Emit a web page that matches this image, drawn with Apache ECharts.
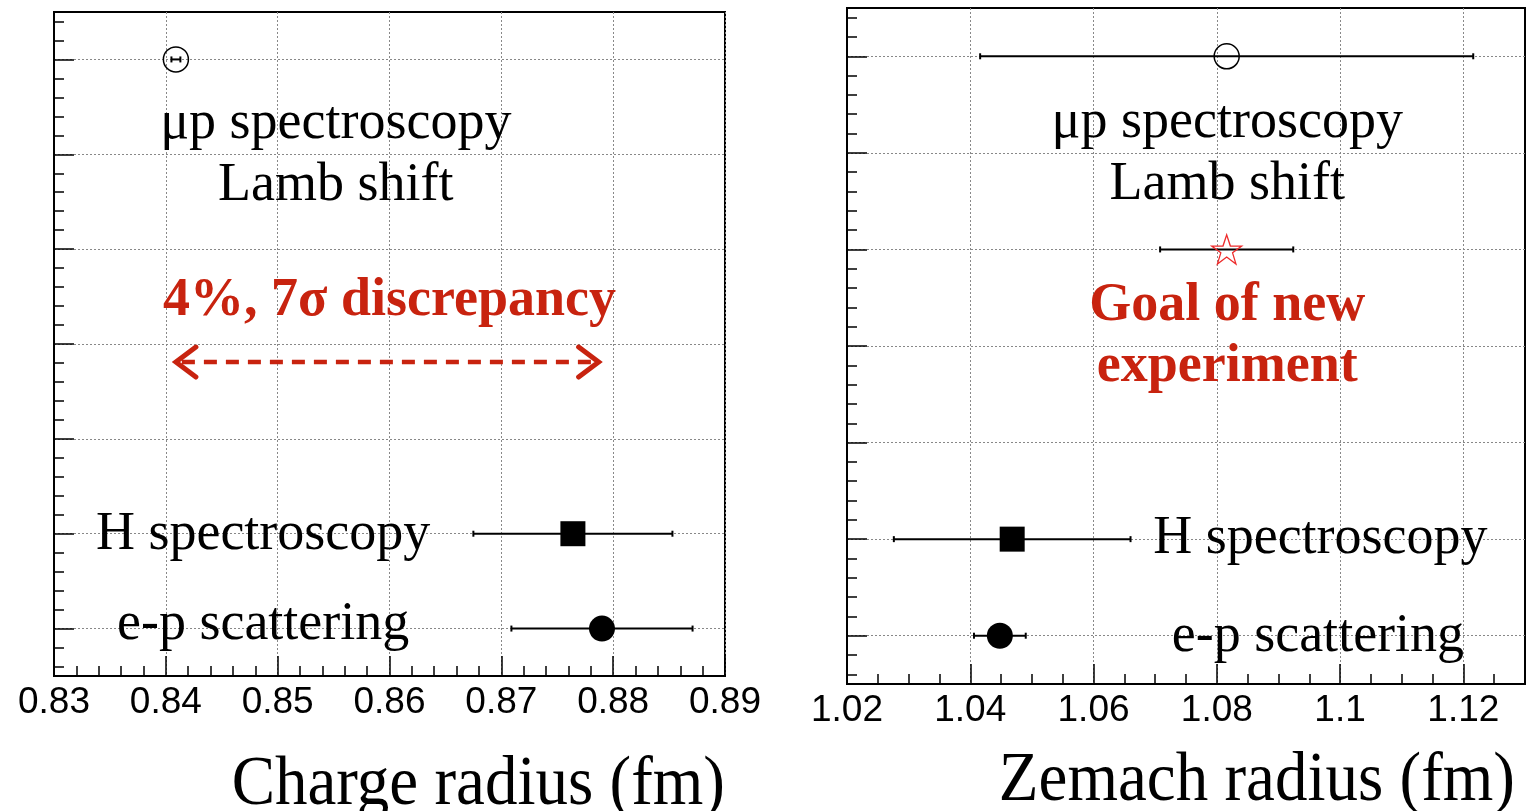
<!DOCTYPE html>
<html><head><meta charset="utf-8">
<script src="https://cdn.jsdelivr.net/npm/echarts@6/dist/echarts.min.js"></script>
<style>html,body{margin:0;padding:0;background:#fff}#c{width:1527px;height:811px}</style>
</head><body><div id="c"></div>
<script>
// ---------- data ----------
const leftNames  = ['μp Lamb shift', 'H spectroscopy', 'e-p scattering'];
const leftValue  = [0.8409, 0.8764, 0.8790];
const leftError  = [0.0004, 0.0089, 0.0081];
const leftRow    = [6.5, 1.5, 0.5];

const rightNames = ['μp Lamb shift', 'Goal of new experiment', 'H spectroscopy', 'e-p scattering'];
const rightValue = [1.0816, 1.0816, 1.0468, 1.0448];
const rightError = [0.0400, 0.0108, 0.0192, 0.0042];
const rightRow   = [6.5, 4.5, 1.5, 0.5];

const leftTickLabels  = [0.83, 0.84, 0.85, 0.86, 0.87, 0.88, 0.89];
const rightTickLabels = [1.02, 1.04, 1.06, 1.08, 1.1, 1.12];
const rowTicks      = [0.5, 1.5, 2.5, 3.5, 4.5, 5.5, 6.5];
const rowMinorTicks = [0.1,0.3,0.5,0.7,0.9,1.1,1.3,1.5,1.7,1.9,2.1,2.3,2.5,2.7,2.9,3.1,3.3,3.5,3.7,3.9,4.1,4.3,4.5,4.7,4.9,5.1,5.3,5.5,5.7,5.9,6.1,6.3,6.5,6.7,6.9];

// ---------- styling ----------
const RED = '#c8230f';
const SERIF = '"Liberation Serif", "DejaVu Serif", serif';
const SANS = '"Liberation Sans", Arial, sans-serif';
const grids = [
  {left: 54, top: 12, width: 671, height: 664},
  {left: 847, top: 8, width: 678, height: 676}
];
const gridLine = {show: true, lineStyle: {color: '#888', width: 1, type: [2, 2]}};

function xAxes(gi, min, max, labels, minorInterval, labelSize, margin) {
  return [
    {type: 'value', gridIndex: gi, min, max, position: 'bottom',
     axisLine: {show: true, onZero: false, lineStyle: {color: '#000', width: 2}},
     axisTick: {show: true, inside: true, length: 20, customValues: labels, lineStyle: {color: '#000', width: 1.5}},
     axisLabel: {show: true, customValues: labels, color: '#000', fontFamily: SANS, fontSize: labelSize, margin},
     splitLine: gridLine},
    {type: 'value', gridIndex: gi, min, max, interval: minorInterval, position: 'bottom',
     axisLine: {show: false, onZero: false}, axisLabel: {show: false}, splitLine: {show: false},
     axisTick: {show: true, inside: true, length: 10, lineStyle: {color: '#000', width: 1.5}}}
  ];
}
function yAxes(gi) {
  return [
    {type: 'value', gridIndex: gi, min: 0, max: 7, position: 'left',
     axisLine: {show: true, onZero: false, lineStyle: {color: '#000', width: 2}},
     axisTick: {show: true, inside: true, length: 20, customValues: rowTicks, lineStyle: {color: '#000', width: 1.5}},
     axisLabel: {show: false, customValues: rowTicks},
     splitLine: gridLine},
    {type: 'value', gridIndex: gi, min: 0, max: 7, position: 'left', offset: 0,
     axisLine: {show: false, onZero: false}, axisLabel: {show: false, customValues: rowMinorTicks}, splitLine: {show: false},
     axisTick: {show: true, inside: true, length: 10, customValues: rowMinorTicks, lineStyle: {color: '#000', width: 1.5}}}
  ];
}

function errorSeries(gi, xs, errs, rows) {
  return {
    type: 'custom', xAxisIndex: gi * 2, yAxisIndex: gi * 2, silent: true, z: 3,
    data: xs.map((x, i) => [x, rows[i], x - errs[i], x + errs[i]]),
    encode: {x: [0, 2, 3], y: 1},
    renderItem: (params, api) => {
      const y = api.value(1);
      const a = api.coord([api.value(2), y]);
      const b = api.coord([api.value(3), y]);
      const st = {stroke: '#000', lineWidth: 2};
      const cap = 3;
      return {type: 'group', children: [
        {type: 'line', shape: {x1: a[0], y1: a[1], x2: b[0], y2: b[1]}, style: st},
        {type: 'line', shape: {x1: a[0], y1: a[1] - cap, x2: a[0], y2: a[1] + cap}, style: st},
        {type: 'line', shape: {x1: b[0], y1: b[1] - cap, x2: b[0], y2: b[1] + cap}, style: st}
      ]};
    }
  };
}

const STAR = 'path://M50,2 L61.8,37.6 L98,37.6 L68.8,59.4 L79.6,95 L50,73 L20.4,95 L31.2,59.4 L2,37.6 L38.2,37.6 Z';
const markerStyles = {
  open:   {symbol: 'circle', symbolSize: 25, itemStyle: {opacity: 1, color: 'rgba(255,255,255,0)', borderColor: '#000', borderWidth: 1.5}},
  square: {symbol: 'rect', symbolSize: 25, itemStyle: {opacity: 1, color: '#000'}},
  dot:    {symbol: 'circle', symbolSize: 26, itemStyle: {opacity: 1, color: '#000'}},
  star:   {symbol: STAR, symbolSize: [30, 29], itemStyle: {opacity: 1, color: 'rgba(255,255,255,0)', borderColor: '#ee2a2a', borderWidth: 1.3}}
};
function markerSeries(gi, name, x, y, kind) {
  return Object.assign({type: 'scatter', name, xAxisIndex: gi * 2, yAxisIndex: gi * 2, z: 5, silent: true,
    data: [[x, y]]}, markerStyles[kind]);
}

function note(gi, text, x, y, opts) {
  opts = opts || {};
  return {type: 'scatter', xAxisIndex: gi * 2, yAxisIndex: gi * 2, symbolSize: 0, silent: true, z: 6,
    itemStyle: {opacity: 1},
    data: [[x, y]],
    label: {show: true, position: 'inside', formatter: () => text, opacity: 1,
      fontFamily: SERIF, fontSize: opts.size || 54, fontWeight: opts.bold ? 'bold' : 'normal',
      color: opts.color || '#000'}};
}

const leftKinds = ['open', 'square', 'dot'];
const rightKinds = ['open', 'star', 'square', 'dot'];

const series = [
  errorSeries(0, leftValue, leftError, leftRow),
  errorSeries(1, rightValue, rightError, rightRow),
  ...leftValue.map((v, i) => markerSeries(0, leftNames[i], v, leftRow[i], leftKinds[i])),
  ...rightValue.map((v, i) => markerSeries(1, rightNames[i], v, rightRow[i], rightKinds[i])),
  // left annotations
  note(0, 'μp spectroscopy', 0.8552, 5.82),
  note(0, 'Lamb shift', 0.8552, 5.17),
  note(0, '4%, 7σ discrepancy', 0.8600, 3.95, {bold: true, color: RED}),
  note(0, 'H spectroscopy', 0.8487, 1.49),
  note(0, 'e-p scattering', 0.8487, 0.54),
  // right annotations
  note(1, 'μp spectroscopy', 1.0817, 5.81),
  note(1, 'Lamb shift', 1.0817, 5.17),
  note(1, 'Goal of new', 1.0817, 3.91, {bold: true, color: RED}),
  note(1, 'experiment', 1.0817, 3.28, {bold: true, color: RED}),
  note(1, 'H spectroscopy', 1.0968, 1.50),
  note(1, 'e-p scattering', 1.0964, 0.49),
  // discrepancy double arrow between the muonic and e-p values
  {type: 'custom', xAxisIndex: 0, yAxisIndex: 0, silent: true, z: 4,
   data: [[leftValue[0], 3.31, leftValue[2] - 0.0003]],
   encode: {x: [0, 2], y: 1},
   renderItem: (params, api) => {
     const y = api.value(1);
     const a = api.coord([api.value(0), y]);
     const b = api.coord([api.value(2), y]);
     const h = 15, w = 20;
     const st = {stroke: RED, lineWidth: 5, fill: null, lineCap: 'round', lineJoin: 'miter'};
     return {type: 'group', children: [
       {type: 'line', shape: {x1: a[0] + 6, y1: a[1], x2: b[0] - 6, y2: b[1]},
        style: {stroke: RED, lineWidth: 4.5, lineDash: [13, 9]}},
       {type: 'polyline', shape: {points: [[a[0] + w, a[1] - h], [a[0], a[1]], [a[0] + w, a[1] + h]]}, style: st},
       {type: 'polyline', shape: {points: [[b[0] - w, b[1] - h], [b[0], b[1]], [b[0] - w, b[1] + h]]}, style: st}
     ]};
   }}
];

const chart = echarts.init(document.getElementById('c'), null, {renderer: 'canvas'});
chart.setOption({
  animation: false,
  backgroundColor: '#fff',
  grid: grids.map(g => Object.assign({show: true, borderColor: '#000', borderWidth: 2, backgroundColor: 'rgba(0,0,0,0)', containLabel: false}, g)),
  xAxis: [
    ...xAxes(0, 0.83, 0.89, leftTickLabels, 0.002, 37, 8),
    ...xAxes(1, 1.02, 1.13, rightTickLabels, 0.005, 37, 8)
  ],
  yAxis: [...yAxes(0), ...yAxes(1)],
  graphic: [
    {type: 'text', x: 725, y: 786, scaleY: 1.08, style: {text: 'Charge radius (fm)', font: '65px ' + SERIF, fill: '#000', textAlign: 'right', textVerticalAlign: 'middle'}},
    {type: 'text', x: 1515, y: 782, scaleY: 1.08, style: {text: 'Zemach radius (fm)', font: '65px ' + SERIF, fill: '#000', textAlign: 'right', textVerticalAlign: 'middle'}}
  ],
  series
});
</script>
</body></html>
